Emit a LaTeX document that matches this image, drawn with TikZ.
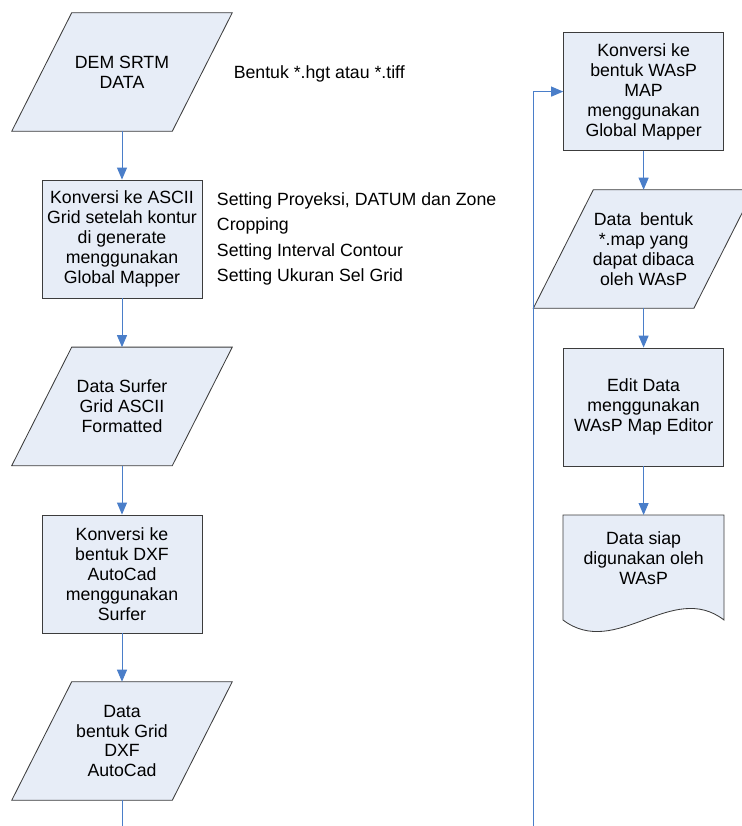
\documentclass[tikz,border=0pt]{standalone}
\usepackage{fontspec}
\setmainfont{Liberation Sans}
\usetikzlibrary{arrows.meta}

\definecolor{boxfill}{HTML}{E7EDF7}
\definecolor{boxline}{HTML}{3C3C3C}
\definecolor{flowblue}{HTML}{4A7EC9}

\pgfdeclarelayer{background}
\pgfsetlayers{background,main}

\begin{document}
\begin{tikzpicture}[
        font=\fontsize{12.6}{14.2}\selectfont,
        proc/.style={rectangle, draw=boxline, fill=boxfill, line width=0.6pt, minimum width=4cm, minimum height=2.95cm, align=center, inner sep=1pt},
        io/.style={rectangle, minimum width=4cm, minimum height=2.95cm, align=center, inner sep=1pt},
        iofill/.style={draw=boxline, fill=boxfill, line width=0.6pt},
        flow/.style={draw=flowblue, line width=0.7pt, -{Triangle[length=0.3cm, width=0.25cm]}}
    ]
        \useasboundingbox (0,0) rectangle (18.525,-20.65);

        \node [io] (dem) at (3.05,-1.8) {DEM SRTM\\DATA};
        \node [proc] (ascii) at (3.05,-5.975) {Konversi ke ASCII\\Grid setelah kontur\\di generate\\menggunakan\\Global Mapper};
        \node [io] (surfer) at (3.05,-10.16) {Data Surfer\\Grid ASCII\\Formatted};
        \node [proc] (dxfconv) at (3.05,-14.35) {Konversi ke\\bentuk DXF\\AutoCad\\menggunakan\\Surfer};
        \node [io] (dxfdata) at (3.05,-18.525) {Data\\bentuk Grid\\DXF\\AutoCad};
        \coordinate (leftend) at (3.05,-20.65);

        \node [anchor=west] (format) at (5.72,-1.85) {Bentuk *.hgt atau *.tiff};
        \node [anchor=west, align=left, font=\fontsize{12.6}{18.1}\selectfont] (settings) at (5.3,-5.975)
            {Setting Proyeksi, DATUM dan Zone\\Cropping\\Setting Interval Contour\\Setting Ukuran Sel Grid};

        \node [proc] (waspmap) at (16.09,-2.29) {Konversi ke\\bentuk WAsP\\MAP\\menggunakan\\Global Mapper};
        \node [io] (mapdata) at (16.09,-6.225) {Data\enspace bentuk\\*.map yang\\dapat dibaca\\oleh WAsP};
        \node [proc] (edit) at (16.09,-10.175) {Edit Data\\menggunakan\\WAsP Map Editor};
        \node [anchor=north, minimum width=4cm, align=center, inner ysep=0.42cm] (ready) at (16.09,-12.875) {Data siap\\digunakan oleh\\WAsP};
        \coordinate (loopend) at (13.325,-20.65);

        % slanted data boxes and the document shape go behind the text
        \begin{pgfonlayer}{background}
            \foreach \n in {dem,surfer,dxfdata,mapdata}
                \draw [iofill] ([xshift=0.75cm]\n.north west) -- ([xshift=0.75cm]\n.north east)
                    -- ([xshift=-0.75cm]\n.south east) -- ([xshift=-0.75cm]\n.south west) -- cycle;
            \draw [iofill] (14.075,-12.875) -- (18.1,-12.875) -- (18.1,-15.5)
                .. controls (16.8,-14.5) and (15.4,-16.5) .. (14.075,-15.5) -- cycle;
        \end{pgfonlayer}

        \draw [flow] (dem) -- (ascii);
        \draw [flow] (ascii) -- (surfer);
        \draw [flow] (surfer) -- (dxfconv);
        \draw [flow] (dxfconv) -- (dxfdata);
        \draw [flow, -] (dxfdata) -- (leftend);

        \draw [flow] (loopend) |- (waspmap.west);
        \draw [flow] (waspmap) -- (mapdata);
        \draw [flow] (mapdata) -- (edit);
        \draw [flow] (edit) -- (ready);
    \end{tikzpicture}
\end{document}
